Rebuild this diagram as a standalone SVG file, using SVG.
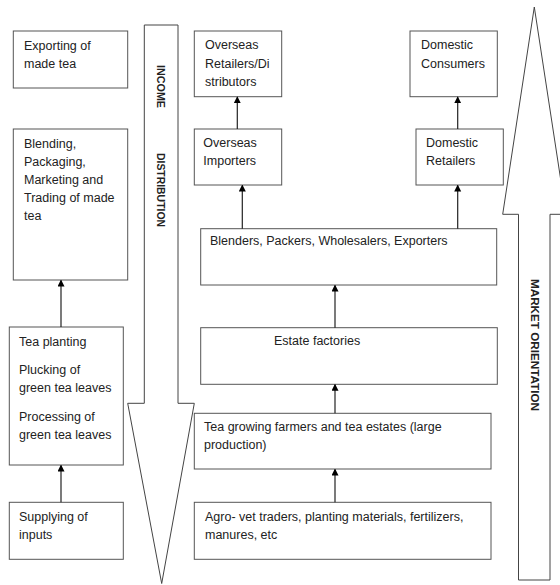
<svg xmlns="http://www.w3.org/2000/svg" width="560" height="585" viewBox="0 0 560 585">
<defs>
<marker id="ah" markerWidth="7" markerHeight="8" refX="6" refY="3.5" orient="auto" markerUnits="userSpaceOnUse">
<path d="M0,0 L7,3.5 L0,7 z" fill="#000"/>
</marker>
<style>
.box{fill:#fff;stroke:#555;stroke-width:1}
.big{fill:#fff;stroke:#444;stroke-width:1}
text{font-family:"Liberation Sans",Arial,sans-serif;font-size:12.5px;fill:#222}
.lbl{font-weight:bold;font-size:10.5px}
.conn line{stroke:#222;stroke-width:1.2;marker-end:url(#ah)}
</style>
</defs>
<rect width="560" height="585" fill="#fff"/>
<g id="income-arrow">
<path class="big" d="M144.3,25 L178,25 L178,403.3 L194.3,403.3 L161.7,583.5 L127.7,403.3 L144.3,403.3 Z"/>
<text class="lbl" transform="translate(157,65) rotate(90)" textLength="43" lengthAdjust="spacingAndGlyphs">INCOME</text>
<text class="lbl" transform="translate(157,153) rotate(90)" textLength="74" lengthAdjust="spacingAndGlyphs">DISTRIBUTION</text>
</g>
<g id="market-arrow">
<path class="big" d="M518.5,580 L518.5,214.3 L502.7,214.3 L534.3,7 L566,214.3 L550,214.3 L550,580 Z"/>
<text class="lbl" transform="translate(530.5,279) rotate(90)" textLength="132" lengthAdjust="spacingAndGlyphs">MARKET ORIENTATION</text>
</g>
<g id="exporting">
<rect class="box" x="13.3" y="31" width="114.4" height="57"/>
<text x="24" y="50">Exporting of</text>
<text x="24" y="68">made tea</text>
</g>
<g id="blending">
<rect class="box" x="13.3" y="129" width="114.4" height="151"/>
<text x="24" y="148">Blending,</text>
<text x="24" y="166">Packaging,</text>
<text x="24" y="184">Marketing and</text>
<text x="24" y="202">Trading of made</text>
<text x="24" y="220">tea</text>
</g>
<g id="tea-planting">
<rect class="box" x="9.3" y="327" width="114" height="138"/>
<text x="19" y="346">Tea planting</text>
<text x="19" y="374">Plucking of</text>
<text x="19" y="392">green tea leaves</text>
<text x="19" y="421">Processing of</text>
<text x="19" y="439">green tea leaves</text>
</g>
<g id="supplying">
<rect class="box" x="9.3" y="502.3" width="114" height="57"/>
<text x="19" y="521">Supplying of</text>
<text x="19" y="539">inputs</text>
</g>
<g id="overseas-retailers">
<rect class="box" x="194.3" y="31" width="87.4" height="65.7"/>
<text x="205" y="49">Overseas</text>
<text x="205" y="67.7">Retailers/Di</text>
<text x="205" y="85.7">stributors</text>
</g>
<g id="overseas-importers">
<rect class="box" x="194.3" y="129" width="87.4" height="56"/>
<text x="203.3" y="146.7">Overseas</text>
<text x="203.3" y="165">Importers</text>
</g>
<g id="domestic-consumers">
<rect class="box" x="410" y="31" width="87.3" height="65.7"/>
<text x="421" y="49">Domestic</text>
<text x="421" y="67.7">Consumers</text>
</g>
<g id="domestic-retailers">
<rect class="box" x="416" y="129" width="87.3" height="56"/>
<text x="426" y="146.7">Domestic</text>
<text x="426" y="165">Retailers</text>
</g>
<g id="blenders">
<rect class="box" x="200.7" y="228.7" width="296" height="56.3"/>
<text x="210" y="245">Blenders, Packers, Wholesalers, Exporters</text>
</g>
<g id="estate-factories">
<rect class="box" x="200.7" y="327.7" width="296.6" height="56.6"/>
<text x="274" y="345">Estate factories</text>
</g>
<g id="tea-growing">
<rect class="box" x="194.3" y="413.3" width="296.7" height="55.7"/>
<text x="204" y="430.7">Tea growing farmers and tea estates (large</text>
<text x="204" y="449">production)</text>
</g>
<g id="agro-vet">
<rect class="box" x="194.3" y="502.3" width="296.7" height="57"/>
<text x="205" y="520.7">Agro- vet traders, planting materials, fertilizers,</text>
<text x="205" y="539">manures, etc</text>
</g>
<g class="conn" id="connectors">
<line x1="61" y1="327" x2="61" y2="280.5"/>
<line x1="61" y1="502.3" x2="61" y2="465.5"/>
<line x1="237.3" y1="129" x2="237.3" y2="97.2"/>
<line x1="242.3" y1="228.7" x2="242.3" y2="185.5"/>
<line x1="457.7" y1="129" x2="457.7" y2="97.2"/>
<line x1="457.7" y1="228.7" x2="457.7" y2="185.5"/>
<line x1="335" y1="327.7" x2="335" y2="285.5"/>
<line x1="335" y1="413.3" x2="335" y2="384.8"/>
<line x1="335" y1="502.3" x2="335" y2="469.5"/>
</g>
</svg>
